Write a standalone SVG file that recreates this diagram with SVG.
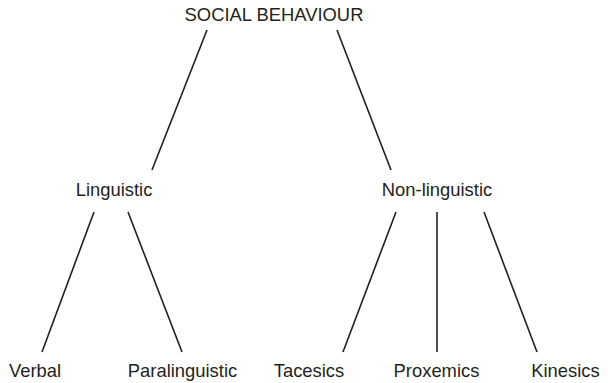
<svg xmlns="http://www.w3.org/2000/svg" width="608" height="383" viewBox="0 0 608 383">
<style>
text{font-family:"Liberation Sans",Arial,sans-serif;font-size:18.4px;fill:#231f20;text-anchor:middle}
line{stroke:#231f20;stroke-width:1.6}
</style>
<rect width="608" height="383" fill="#fff"/>
<g id="connectors">
<line x1="207" y1="30" x2="152" y2="170"/>
<line x1="337" y1="30" x2="391" y2="170"/>
<line x1="94" y1="212" x2="42" y2="352"/>
<line x1="128" y1="212" x2="182" y2="352"/>
<line x1="396" y1="212" x2="343" y2="352"/>
<line x1="437" y1="212" x2="437" y2="352"/>
<line x1="484" y1="212" x2="537" y2="352"/>
</g>
<g id="social"><text x="274" y="21">SOCIAL BEHAVIOUR</text></g>
<g id="linguistic"><text x="114" y="196">Linguistic</text></g>
<g id="nonlinguistic"><text x="437" y="196">Non-linguistic</text></g>
<g id="verbal"><text x="35" y="377">Verbal</text></g>
<g id="paralinguistic"><text x="182.5" y="377">Paralinguistic</text></g>
<g id="tacesics"><text x="309" y="377">Tacesics</text></g>
<g id="proxemics"><text x="436.5" y="377">Proxemics</text></g>
<g id="kinesics"><text x="565.5" y="377">Kinesics</text></g>
</svg>
